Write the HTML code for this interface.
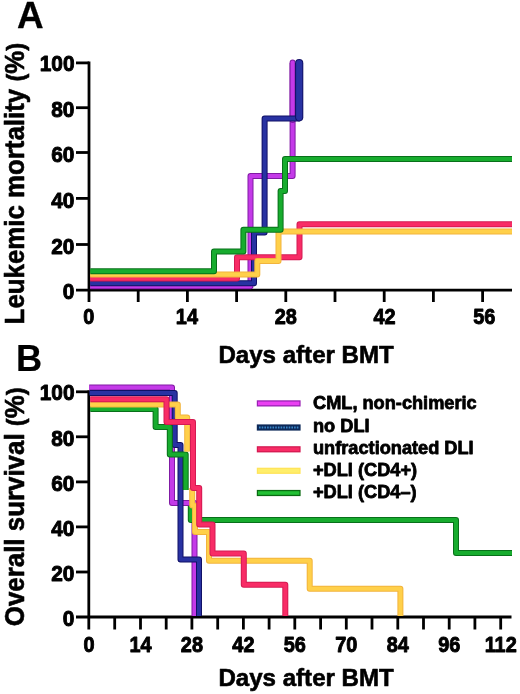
<!DOCTYPE html>
<html><head><meta charset="utf-8"><title>Figure</title>
<style>
html,body{margin:0;padding:0;background:#fff}
svg{display:block}
text{font-family:"Liberation Sans",Arial,Helvetica,sans-serif;font-weight:700;fill:#000;stroke:#000;stroke-width:0.6px;stroke-linejoin:round}
</style></head>
<body>
<svg width="520" height="694" viewBox="0 0 520 694">
<rect width="520" height="694" fill="#fff"/>
<g id="axes">
<path d="M89 61.5V302" stroke="#000" stroke-width="2.8" fill="none"/>
<path d="M76 290.1H512" stroke="#000" stroke-width="2.8" fill="none"/>
<path d="M76 62.9H89" stroke="#000" stroke-width="2.8" fill="none"/>
<path d="M76 107.7H89" stroke="#000" stroke-width="2.8" fill="none"/>
<path d="M76 152.5H89" stroke="#000" stroke-width="2.8" fill="none"/>
<path d="M76 198.4H89" stroke="#000" stroke-width="2.8" fill="none"/>
<path d="M76 244.5H89" stroke="#000" stroke-width="2.8" fill="none"/>
<path d="M138.2 290V302" stroke="#000" stroke-width="2.8" fill="none"/>
<path d="M187.4 290V302" stroke="#000" stroke-width="2.8" fill="none"/>
<path d="M236.6 290V302" stroke="#000" stroke-width="2.8" fill="none"/>
<path d="M285.8 290V302" stroke="#000" stroke-width="2.8" fill="none"/>
<path d="M335.0 290V302" stroke="#000" stroke-width="2.8" fill="none"/>
<path d="M384.2 290V302" stroke="#000" stroke-width="2.8" fill="none"/>
<path d="M433.4 290V302" stroke="#000" stroke-width="2.8" fill="none"/>
<path d="M482.6 290V302" stroke="#000" stroke-width="2.8" fill="none"/>
<path d="M88.8 390.4V629.5" stroke="#000" stroke-width="2.8" fill="none"/>
<path d="M76 617H511.5" stroke="#000" stroke-width="2.8" fill="none"/>
<path d="M76 391.8H89" stroke="#000" stroke-width="2.8" fill="none"/>
<path d="M76 436.8H89" stroke="#000" stroke-width="2.8" fill="none"/>
<path d="M76 481.9H89" stroke="#000" stroke-width="2.8" fill="none"/>
<path d="M76 526.9H89" stroke="#000" stroke-width="2.8" fill="none"/>
<path d="M76 572.0H89" stroke="#000" stroke-width="2.8" fill="none"/>
<path d="M114.7 617V629.5" stroke="#000" stroke-width="2.8" fill="none"/>
<path d="M140.5 617V629.5" stroke="#000" stroke-width="2.8" fill="none"/>
<path d="M166.2 617V629.5" stroke="#000" stroke-width="2.8" fill="none"/>
<path d="M191.9 617V629.5" stroke="#000" stroke-width="2.8" fill="none"/>
<path d="M217.7 617V629.5" stroke="#000" stroke-width="2.8" fill="none"/>
<path d="M243.4 617V629.5" stroke="#000" stroke-width="2.8" fill="none"/>
<path d="M269.1 617V629.5" stroke="#000" stroke-width="2.8" fill="none"/>
<path d="M294.8 617V629.5" stroke="#000" stroke-width="2.8" fill="none"/>
<path d="M320.6 617V629.5" stroke="#000" stroke-width="2.8" fill="none"/>
<path d="M346.3 617V629.5" stroke="#000" stroke-width="2.8" fill="none"/>
<path d="M372.0 617V629.5" stroke="#000" stroke-width="2.8" fill="none"/>
<path d="M397.8 617V629.5" stroke="#000" stroke-width="2.8" fill="none"/>
<path d="M423.5 617V629.5" stroke="#000" stroke-width="2.8" fill="none"/>
<path d="M449.2 617V629.5" stroke="#000" stroke-width="2.8" fill="none"/>
<path d="M474.9 617V629.5" stroke="#000" stroke-width="2.8" fill="none"/>
<path d="M500.7 617V629.5" stroke="#000" stroke-width="2.8" fill="none"/>
</g>
<g id="curves">
<path d="M90.3 286.3 L250.5 286.3 L250.5 176.0 L292.6 176.0 L292.6 63.0" fill="none" stroke="#801aa4" stroke-width="6.0" stroke-linejoin="round" stroke-linecap="butt"/><path d="M90.3 286.3 L250.5 286.3 L250.5 176.0 L292.6 176.0 L292.6 63.0" fill="none" stroke="#c43ae8" stroke-width="4.0" stroke-linejoin="round" stroke-linecap="butt"/>
<path d="M292.6 120.0 L292.6 62.5" fill="none" stroke="#801aa4" stroke-width="6.0" stroke-linejoin="round" stroke-linecap="round"/><path d="M292.6 120.0 L292.6 62.5" fill="none" stroke="#c43ae8" stroke-width="4.0" stroke-linejoin="round" stroke-linecap="round"/>
<path d="M90.3 283.2 L254.0 283.2 L254.0 232.5 L264.6 232.5 L264.6 118.5 L298.6 118.5 L298.6 63.0" fill="none" stroke="#101066" stroke-width="6.0" stroke-linejoin="round" stroke-linecap="butt"/><path d="M90.3 283.2 L254.0 283.2 L254.0 232.5 L264.6 232.5 L264.6 118.5 L298.6 118.5 L298.6 63.0" fill="none" stroke="#2832a2" stroke-width="4.0" stroke-linejoin="round" stroke-linecap="butt"/>
<path d="M299.2 117.3 L299.2 63.2" fill="none" stroke="#101066" stroke-width="8.2" stroke-linejoin="round" stroke-linecap="round"/><path d="M299.2 117.3 L299.2 63.2" fill="none" stroke="#2832a2" stroke-width="6.2" stroke-linejoin="round" stroke-linecap="round"/>
<path d="M90.3 278.6 L237.0 278.6 L237.0 257.3 L299.5 257.3 L299.5 224.3 L512.0 224.3" fill="none" stroke="#d41a52" stroke-width="6.0" stroke-linejoin="round" stroke-linecap="butt"/><path d="M90.3 278.6 L237.0 278.6 L237.0 257.3 L299.5 257.3 L299.5 224.3 L512.0 224.3" fill="none" stroke="#f82c66" stroke-width="4.0" stroke-linejoin="round" stroke-linecap="butt"/>
<path d="M90.3 274.5 L257.3 274.5 L257.3 261.0 L278.5 261.0 L278.5 231.5 L512.0 231.5" fill="none" stroke="#f2b43c" stroke-width="6.0" stroke-linejoin="round" stroke-linecap="butt"/><path d="M90.3 274.5 L257.3 274.5 L257.3 261.0 L278.5 261.0 L278.5 231.5 L512.0 231.5" fill="none" stroke="#ffd04a" stroke-width="4.0" stroke-linejoin="round" stroke-linecap="butt"/>
<path d="M90.3 271.2 L214.0 271.2 L214.0 251.4 L243.4 251.4 L243.4 229.8 L280.6 229.8 L280.6 191.0 L285.0 191.0 L285.0 159.0 L512.0 159.0" fill="none" stroke="#08701a" stroke-width="6.0" stroke-linejoin="round" stroke-linecap="butt"/><path d="M90.3 271.2 L214.0 271.2 L214.0 251.4 L243.4 251.4 L243.4 229.8 L280.6 229.8 L280.6 191.0 L285.0 191.0 L285.0 159.0 L512.0 159.0" fill="none" stroke="#17ac2e" stroke-width="4.0" stroke-linejoin="round" stroke-linecap="butt"/>
<path d="M89.2 387.4 L172.0 387.4 L172.0 503.0 L194.5 503.0 L194.5 616.0" fill="none" stroke="#801aa4" stroke-width="6.0" stroke-linejoin="round" stroke-linecap="butt"/><path d="M89.2 387.4 L172.0 387.4 L172.0 503.0 L194.5 503.0 L194.5 616.0" fill="none" stroke="#c43ae8" stroke-width="4.0" stroke-linejoin="round" stroke-linecap="butt"/>
<path d="M89.6 393.0 L174.7 393.0 L174.7 445.0 L180.5 445.0 L180.5 559.5 L199.0 559.5 L199.0 616.0" fill="none" stroke="#101066" stroke-width="6.0" stroke-linejoin="round" stroke-linecap="butt"/><path d="M89.6 393.0 L174.7 393.0 L174.7 445.0 L180.5 445.0 L180.5 559.5 L199.0 559.5 L199.0 616.0" fill="none" stroke="#2832a2" stroke-width="4.0" stroke-linejoin="round" stroke-linecap="butt"/>
<path d="M90.3 409.0 L155.6 409.0 L155.6 427.0 L169.8 427.0 L169.8 454.5 L185.7 454.5 L185.7 490.0" fill="none" stroke="#08701a" stroke-width="6.0" stroke-linejoin="round" stroke-linecap="butt"/><path d="M90.3 409.0 L155.6 409.0 L155.6 427.0 L169.8 427.0 L169.8 454.5 L185.7 454.5 L185.7 490.0" fill="none" stroke="#17ac2e" stroke-width="4.0" stroke-linejoin="round" stroke-linecap="butt"/>
<path d="M190.8 506.0 L190.8 520.0 L456.0 520.0 L456.0 553.0 L512.0 553.0" fill="none" stroke="#08701a" stroke-width="6.0" stroke-linejoin="round" stroke-linecap="butt"/><path d="M190.8 506.0 L190.8 520.0 L456.0 520.0 L456.0 553.0 L512.0 553.0" fill="none" stroke="#17ac2e" stroke-width="4.0" stroke-linejoin="round" stroke-linecap="butt"/>
<path d="M90.3 404.5 L177.8 404.5 L177.8 417.5 L187.2 417.5 L187.2 451.6" fill="none" stroke="#f2b43c" stroke-width="6.0" stroke-linejoin="round" stroke-linecap="butt"/><path d="M90.3 404.5 L177.8 404.5 L177.8 417.5 L187.2 417.5 L187.2 451.6" fill="none" stroke="#ffd04a" stroke-width="4.0" stroke-linejoin="round" stroke-linecap="butt"/>
<path d="M192.2 488.0 L192.2 505.5 L195.0 505.5 L195.0 532.0 L209.0 532.0 L209.0 560.7 L309.7 560.7 L309.7 588.7 L400.4 588.7 L400.4 616.0" fill="none" stroke="#f2b43c" stroke-width="6.0" stroke-linejoin="round" stroke-linecap="butt"/><path d="M192.2 488.0 L192.2 505.5 L195.0 505.5 L195.0 532.0 L209.0 532.0 L209.0 560.7 L309.7 560.7 L309.7 588.7 L400.4 588.7 L400.4 616.0" fill="none" stroke="#ffd04a" stroke-width="4.0" stroke-linejoin="round" stroke-linecap="butt"/>
<path d="M90.3 399.2 L166.5 399.2 L166.5 422.0 L193.0 422.0 L193.0 488.0 L199.2 488.0 L199.2 524.5 L212.5 524.5 L212.5 553.5 L243.8 553.5 L243.8 584.8 L285.3 584.8 L285.3 616.0" fill="none" stroke="#d41a52" stroke-width="6.0" stroke-linejoin="round" stroke-linecap="butt"/><path d="M90.3 399.2 L166.5 399.2 L166.5 422.0 L193.0 422.0 L193.0 488.0 L199.2 488.0 L199.2 524.5 L212.5 524.5 L212.5 553.5 L243.8 553.5 L243.8 584.8 L285.3 584.8 L285.3 616.0" fill="none" stroke="#f82c66" stroke-width="4.0" stroke-linejoin="round" stroke-linecap="butt"/>
</g>
<g id="legend">
<rect x="256.8" y="400.3" width="43.8" height="6.2" fill="#9a22b4"/>
<rect x="258" y="401.6" width="41.4" height="3.6" fill="#ea40f2"/>
<rect x="256.8" y="424.4" width="43.8" height="6.2" fill="#0c2858"/>
<path d="M259 427.5H298.5" stroke="#3a86c8" stroke-width="2.2" stroke-dasharray="1.6 1.1" fill="none"/>
<rect x="256.8" y="446.2" width="43.8" height="6.2" fill="#d41a52"/>
<rect x="258" y="447.5" width="41.4" height="3.6" fill="#f82c66"/>
<rect x="256.8" y="467.7" width="43.8" height="6.2" fill="#ffe45a"/>
<rect x="258" y="469.0" width="41.4" height="3.6" fill="#ffee6a"/>
<rect x="256.8" y="489.9" width="43.8" height="6.2" fill="#0a6a12"/>
<rect x="258" y="491.2" width="41.4" height="3.6" fill="#22c034"/>
</g>
<g id="labels">
<text x="16.9" y="27.8" font-size="36.8" text-anchor="start" style="stroke-width:0.3px">A</text>
<text x="16.0" y="371.2" font-size="36.2" text-anchor="start" style="stroke-width:0.2px">B</text>
<text transform="translate(74.5,71.1) scale(0.925,1)" font-size="22.6" text-anchor="end" style="stroke-width:0.95px">100</text>
<text transform="translate(74.5,117.0) scale(0.925,1)" font-size="22.6" text-anchor="end" style="stroke-width:0.95px">80</text>
<text transform="translate(74.5,161.8) scale(0.925,1)" font-size="22.6" text-anchor="end" style="stroke-width:0.95px">60</text>
<text transform="translate(74.5,207.7) scale(0.925,1)" font-size="22.6" text-anchor="end" style="stroke-width:0.95px">40</text>
<text transform="translate(74.5,253.8) scale(0.925,1)" font-size="22.6" text-anchor="end" style="stroke-width:0.95px">20</text>
<text transform="translate(74.5,299.4) scale(0.925,1)" font-size="22.6" text-anchor="end" style="stroke-width:0.95px">0</text>
<text transform="translate(74.5,400.0) scale(0.925,1)" font-size="22.6" text-anchor="end" style="stroke-width:0.95px">100</text>
<text transform="translate(74.5,446.1) scale(0.925,1)" font-size="22.6" text-anchor="end" style="stroke-width:0.95px">80</text>
<text transform="translate(74.5,491.2) scale(0.925,1)" font-size="22.6" text-anchor="end" style="stroke-width:0.95px">60</text>
<text transform="translate(74.5,536.2) scale(0.925,1)" font-size="22.6" text-anchor="end" style="stroke-width:0.95px">40</text>
<text transform="translate(74.5,581.3) scale(0.925,1)" font-size="22.6" text-anchor="end" style="stroke-width:0.95px">20</text>
<text transform="translate(74.5,626.3) scale(0.925,1)" font-size="22.6" text-anchor="end" style="stroke-width:0.95px">0</text>
<text transform="translate(88.7,324.4) scale(0.9,1)" font-size="22.1" text-anchor="middle" style="stroke-width:0.95px">0</text>
<text transform="translate(186.9,324.4) scale(0.9,1)" font-size="22.1" text-anchor="middle" style="stroke-width:0.95px">14</text>
<text transform="translate(285.8,324.4) scale(0.9,1)" font-size="22.1" text-anchor="middle" style="stroke-width:0.95px">28</text>
<text transform="translate(384.5,324.4) scale(0.9,1)" font-size="22.1" text-anchor="middle" style="stroke-width:0.95px">42</text>
<text transform="translate(484.2,324.4) scale(0.9,1)" font-size="22.1" text-anchor="middle" style="stroke-width:0.95px">56</text>
<text transform="translate(89.0,652.0) scale(0.9,1)" font-size="22.1" text-anchor="middle" style="stroke-width:0.95px">0</text>
<text transform="translate(140.5,652.0) scale(0.9,1)" font-size="22.1" text-anchor="middle" style="stroke-width:0.95px">14</text>
<text transform="translate(191.9,652.0) scale(0.9,1)" font-size="22.1" text-anchor="middle" style="stroke-width:0.95px">28</text>
<text transform="translate(243.4,652.0) scale(0.9,1)" font-size="22.1" text-anchor="middle" style="stroke-width:0.95px">42</text>
<text transform="translate(294.8,652.0) scale(0.9,1)" font-size="22.1" text-anchor="middle" style="stroke-width:0.95px">56</text>
<text transform="translate(346.3,652.0) scale(0.9,1)" font-size="22.1" text-anchor="middle" style="stroke-width:0.95px">70</text>
<text transform="translate(397.8,652.0) scale(0.9,1)" font-size="22.1" text-anchor="middle" style="stroke-width:0.95px">84</text>
<text transform="translate(449.2,652.0) scale(0.9,1)" font-size="22.1" text-anchor="middle" style="stroke-width:0.95px">96</text>
<text transform="translate(500.7,652.0) scale(0.9,1)" font-size="22.1" text-anchor="middle" style="stroke-width:0.95px">112</text>
<text x="218.4" y="363.2" font-size="24.1" text-anchor="start" >Days after BMT</text>
<text x="218.4" y="686.4" font-size="24.1" text-anchor="start" >Days after BMT</text>
<text transform="translate(24.3,324.4) rotate(-90) scale(0.958,1)" font-size="27">Leukemic mortality <tspan font-size="24.6" dy="-0.5">(</tspan><tspan dy="0.5">%</tspan><tspan font-size="24.6" dy="-0.5">)</tspan></text>
<text transform="translate(24.4,626.2) rotate(-90) scale(0.959,1)" font-size="27">Overall survival <tspan font-size="24.6" dy="-0.5">(</tspan><tspan dy="0.5">%</tspan><tspan font-size="24.6" dy="-0.5">)</tspan></text>
<text x="313.0" y="409.0" font-size="18.2" text-anchor="start" style="stroke-width:0.8px">CML, non-chimeric</text>
<text x="313.0" y="431.5" font-size="18.2" text-anchor="start" style="stroke-width:0.8px">no DLI</text>
<text x="313.0" y="453.8" font-size="18.2" text-anchor="start" style="stroke-width:0.8px">unfractionated DLI</text>
<text x="313.0" y="476.0" font-size="18.2" text-anchor="start" style="stroke-width:0.8px">+DLI (CD4+)</text>
<text x="313.0" y="498.2" font-size="18.2" text-anchor="start" style="stroke-width:0.8px">+DLI (CD4–)</text>
</g>
</svg>
</body></html>
